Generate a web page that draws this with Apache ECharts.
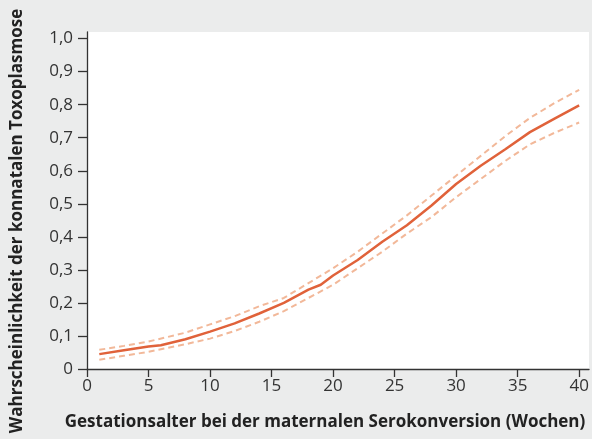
<!DOCTYPE html>
<html><head><meta charset="utf-8">
<script src="https://cdn.jsdelivr.net/npm/echarts@6/dist/echarts.min.js"></script>
<style>html,body{margin:0;padding:0;background:#ebecec;}#c{width:592px;height:439px;}</style>
</head><body><div id="c"></div>
<script>
const weeks = [1, 3, 5, 6, 8, 10, 12, 14, 16, 18, 19, 20, 22, 24, 26, 28, 30, 32, 34, 36, 38, 40];
const probability = [0.045, 0.057, 0.068, 0.072, 0.090, 0.113, 0.138, 0.168, 0.200, 0.240, 0.255, 0.283, 0.330, 0.385, 0.435, 0.495, 0.560, 0.615, 0.665, 0.717, 0.758, 0.798];
const upperWeeks = [1, 3, 5, 8, 10, 12, 14, 16, 18, 20, 22, 24, 26, 28, 30, 32, 34, 36, 38, 40];
const upperBound = [0.058, 0.070, 0.083, 0.110, 0.135, 0.160, 0.190, 0.215, 0.260, 0.305, 0.355, 0.410, 0.465, 0.525, 0.585, 0.645, 0.705, 0.760, 0.805, 0.845];
const lowerBound = [0.028, 0.040, 0.052, 0.075, 0.092, 0.115, 0.143, 0.175, 0.215, 0.255, 0.305, 0.355, 0.410, 0.460, 0.520, 0.575, 0.630, 0.680, 0.715, 0.746];
const xTicks = [0, 5, 10, 15, 20, 25, 30, 35, 40];
const yTicks = [0, 0.1, 0.2, 0.3, 0.4, 0.5, 0.6, 0.7, 0.8, 0.9, 1.0];
const yTickLabels = ['0', '0,1', '0,2', '0,3', '0,4', '0,5', '0,6', '0,7', '0,8', '0,9', '1,0'];
const xTitle = 'Gestationsalter bei der maternalen Serokonversion (Wochen)';
const yTitle = 'Wahrscheinlichkeit der konnatalen Toxoplasmose';

const font = '"Open Sans", "Noto Sans", sans-serif';
const chart = echarts.init(document.getElementById('c'));
const pair = (xs, ys) => xs.map((x, i) => [x, ys[i]]);
chart.setOption({
  animation: false,
  backgroundColor: '#ebecec',
  grid: { left: 87, top: 32, right: 3, bottom: 70, show: true, backgroundColor: '#ffffff', borderWidth: 0 },
  xAxis: {
    type: 'value', min: 0, max: 40.8,
    axisLine: { show: true, onZero: false, lineStyle: { color: '#333', width: 1.3 } },
    axisTick: { show: true, customValues: xTicks, length: 8, lineStyle: { color: '#333', width: 1.3 } },
    axisLabel: { customValues: xTicks, color: '#333', fontFamily: font, fontSize: 17, margin: 9 },
    splitLine: { show: false }
  },
  yAxis: {
    type: 'value', min: 0, max: 1.02,
    axisLine: { show: true, lineStyle: { color: '#333', width: 1.3 } },
    axisTick: { show: true, customValues: yTicks, length: 9, lineStyle: { color: '#333', width: 1.3 } },
    axisLabel: { customValues: yTicks, color: '#333', fontFamily: font, fontSize: 17, margin: 14,
      formatter: v => yTickLabels[Math.round(v * 10)] },
    splitLine: { show: false }
  },
  graphic: [
    { type: 'text', x: 325, y: 422, style: { text: xTitle, x: 0, y: 0, align: 'center', verticalAlign: 'middle', fill: '#222', font: 'bold 17px ' + font } },
    { type: 'text', x: 17, y: 221, rotation: Math.PI / 2, style: { text: yTitle, x: 0, y: 0, align: 'center', verticalAlign: 'middle', fill: '#222', font: 'bold 17px ' + font } }
  ],
  series: [
    { type: 'line', data: pair(upperWeeks, upperBound), showSymbol: false, lineStyle: { color: '#f2b899', width: 2, type: [6, 4] } },
    { type: 'line', data: pair(upperWeeks, lowerBound), showSymbol: false, lineStyle: { color: '#f2b899', width: 2, type: [6, 4] } },
    { type: 'line', data: pair(weeks, probability), showSymbol: false, lineStyle: { color: '#e0623a', width: 2.5 } }
  ]
});
</script></body></html>
